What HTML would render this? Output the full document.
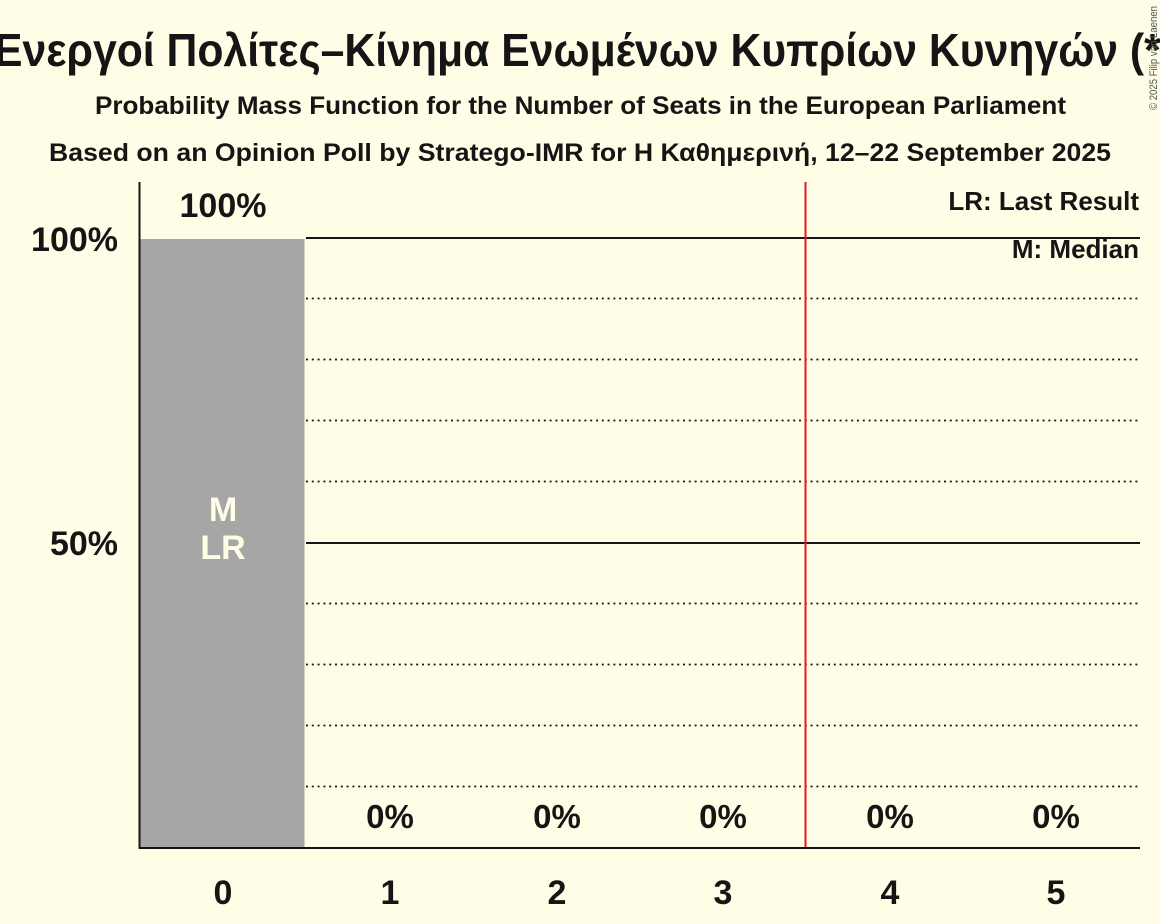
<!DOCTYPE html>
<html>
<head>
<meta charset="utf-8">
<style>
  html, body { margin: 0; padding: 0; background: #FFFDE5; }
  svg { display: block; }
  text { font-family: "Liberation Sans", "DejaVu Sans", sans-serif; fill: #151515; }
</style>
</head>
<body>
<svg width="1160" height="924" viewBox="0 0 1160 924" xmlns="http://www.w3.org/2000/svg">
  <rect x="0" y="0" width="1160" height="924" fill="#FFFDE5"/>

  <!-- Title -->
  <text x="-6" y="66" font-size="46" font-weight="bold" textLength="1181" lengthAdjust="spacingAndGlyphs">Ενεργοί Πολίτες–Κίνημα Ενωμένων Κυπρίων Κυνηγών (*)</text>
  <text x="95" y="114" font-size="25" font-weight="bold" textLength="971" lengthAdjust="spacingAndGlyphs">Probability Mass Function for the Number of Seats in the European Parliament</text>
  <text x="49" y="161" font-size="25" font-weight="bold" textLength="1062" lengthAdjust="spacingAndGlyphs">Based on an Opinion Poll by Stratego-IMR for Η Καθημερινή, 12–22 September 2025</text>

  <!-- Copyright -->
  <text transform="translate(1157,110) rotate(-90)" font-size="11" textLength="104" lengthAdjust="spacingAndGlyphs" style="fill:#555">© 2025 Filip van Laenen</text>

  <!-- Gridlines -->
  <g stroke="#151515" stroke-width="1.8" stroke-dasharray="2 3.8">
    <line x1="306" y1="298.5" x2="1140" y2="298.5"/>
    <line x1="306" y1="359.5" x2="1140" y2="359.5"/>
    <line x1="306" y1="420.5" x2="1140" y2="420.5"/>
    <line x1="306" y1="481.5" x2="1140" y2="481.5"/>
    <line x1="306" y1="603.5" x2="1140" y2="603.5"/>
    <line x1="306" y1="664.5" x2="1140" y2="664.5"/>
    <line x1="306" y1="725.5" x2="1140" y2="725.5"/>
    <line x1="306" y1="786.5" x2="1140" y2="786.5"/>
  </g>
  <g stroke="#151515" stroke-width="2">
    <line x1="306" y1="238" x2="1140" y2="238"/>
    <line x1="306" y1="543" x2="1140" y2="543"/>
  </g>

  <!-- Bar -->
  <rect x="140.5" y="239" width="164" height="608" fill="#A6A6A6"/>

  <!-- Red last-result line -->
  <line x1="805.5" y1="182" x2="805.5" y2="848" stroke="#F0141E" stroke-width="2"/>

  <!-- Axes -->
  <line x1="139.5" y1="182" x2="139.5" y2="849" stroke="#151515" stroke-width="2"/>
  <line x1="138.5" y1="848" x2="1140" y2="848" stroke="#151515" stroke-width="2"/>

  <!-- Y labels -->
  <text x="118" y="251" font-size="34" font-weight="bold" text-anchor="end">100%</text>
  <text x="118" y="555" font-size="34" font-weight="bold" text-anchor="end">50%</text>

  <!-- Bar value labels -->
  <text x="223" y="217" font-size="34" font-weight="bold" text-anchor="middle">100%</text>
  <text x="390" y="828" font-size="33" font-weight="bold" text-anchor="middle">0%</text>
  <text x="557" y="828" font-size="33" font-weight="bold" text-anchor="middle">0%</text>
  <text x="723" y="828" font-size="33" font-weight="bold" text-anchor="middle">0%</text>
  <text x="890" y="828" font-size="33" font-weight="bold" text-anchor="middle">0%</text>
  <text x="1056" y="828" font-size="33" font-weight="bold" text-anchor="middle">0%</text>

  <!-- M / LR in bar -->
  <text x="223" y="521" font-size="34" font-weight="bold" text-anchor="middle" style="fill:#FFFDE5">M</text>
  <text x="223" y="559" font-size="34" font-weight="bold" text-anchor="middle" style="fill:#FFFDE5">LR</text>

  <!-- X labels -->
  <text x="223" y="904" font-size="34" font-weight="bold" text-anchor="middle">0</text>
  <text x="390" y="904" font-size="34" font-weight="bold" text-anchor="middle">1</text>
  <text x="557" y="904" font-size="34" font-weight="bold" text-anchor="middle">2</text>
  <text x="723" y="904" font-size="34" font-weight="bold" text-anchor="middle">3</text>
  <text x="890" y="904" font-size="34" font-weight="bold" text-anchor="middle">4</text>
  <text x="1056" y="904" font-size="34" font-weight="bold" text-anchor="middle">5</text>

  <!-- Legend -->
  <text x="1139" y="210" font-size="26" font-weight="bold" text-anchor="end">LR: Last Result</text>
  <text x="1139" y="258" font-size="26" font-weight="bold" text-anchor="end">M: Median</text>
</svg>
</body>
</html>
